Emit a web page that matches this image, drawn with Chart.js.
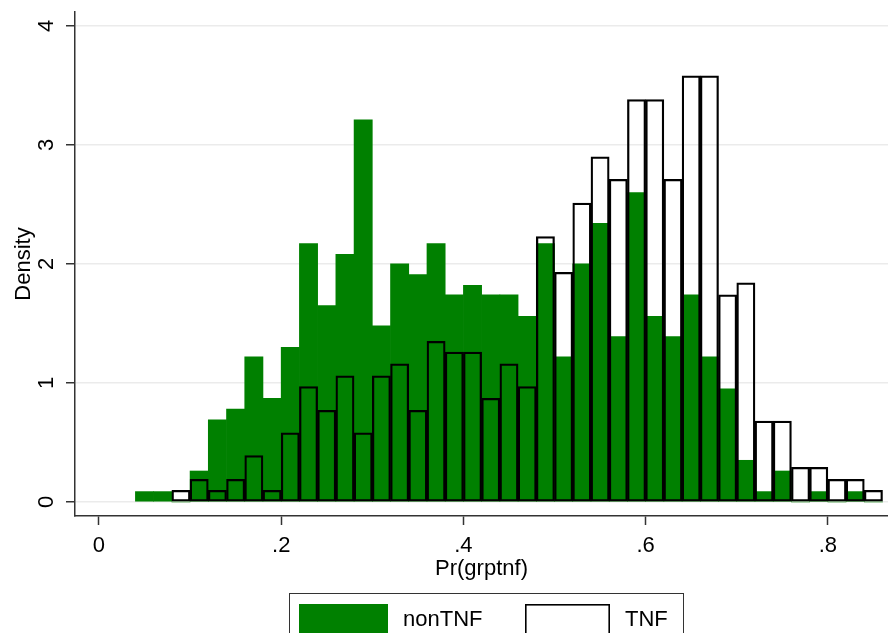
<!DOCTYPE html>
<html>
<head>
<meta charset="utf-8">
<title>Pr(grptnf) histogram</title>
<script src="https://cdn.jsdelivr.net/npm/chart.js@4.4.1/dist/chart.umd.min.js"></script>
<style>
  html, body { margin: 0; padding: 0; background: #fff; }
  #wrap { width: 888px; height: 633px; }
</style>
</head>
<body>
<div id="wrap"><canvas id="histChart"></canvas></div>
<script>
// ── Data (bins of width .02) ──
const binCenters = [0.05, 0.07, 0.09, 0.11, 0.13, 0.15, 0.17, 0.19, 0.21, 0.23, 0.25, 0.27, 0.29, 0.31,
  0.33, 0.35, 0.37, 0.39, 0.41, 0.43, 0.45, 0.47, 0.49, 0.51, 0.53, 0.55, 0.57, 0.59, 0.61, 0.63,
  0.65, 0.67, 0.69, 0.71, 0.73, 0.75, 0.77, 0.79, 0.81, 0.83, 0.85];
const nonTnfDensity = [0.087, 0.087, 0, 0.26, 0.69, 0.78, 1.22, 0.87, 1.30, 2.17, 1.65, 2.08, 3.21, 1.48,
  2.00, 1.91, 2.17, 1.74, 1.82, 1.74, 1.74, 1.56, 2.17, 1.22, 2.00, 2.34, 1.39, 2.60, 1.56, 1.39,
  1.74, 1.22, 0.95, 0.35, 0.087, 0.26, 0, 0.087, 0, 0.087, 0];
const tnfDensity = [null, null, 0.097, 0.19, 0.097, 0.19, 0.39, 0.097, 0.58, 0.97, 0.77, 1.06, 0.58, 1.06,
  1.16, 0.77, 1.35, 1.26, 1.26, 0.87, 1.16, 0.97, 2.23, 1.93, 2.51, 2.90, 2.71, 3.38, 3.38, 2.71,
  3.58, 3.58, 1.74, 1.84, 0.68, 0.68, 0.29, 0.29, 0.19, 0.19, 0.097];
const xTickValues = [0, 0.2, 0.4, 0.6, 0.8];
const xTickLabels = ['0', '.2', '.4', '.6', '.8'];
const yTickValues = [0, 1, 2, 3, 4];
const yTickLabels = ['0', '1', '2', '3', '4'];

const font = { family: '"Liberation Sans", Arial, sans-serif', size: 22 };
const ink = '#000';
const axisColor = '#333';

// Stata-style boxed legend under the plot
const boxLegend = {
  id: 'boxLegend',
  afterDraw(chart) {
    const { ctx } = chart;
    const [green, tnf] = chart.data.datasets;
    ctx.save();
    ctx.strokeStyle = axisColor;
    ctx.lineWidth = 1;
    ctx.strokeRect(289.5, 593.5, 394, 60);

    ctx.fillStyle = green.backgroundColor;
    ctx.fillRect(299, 604, 89, 36);
    ctx.fillStyle = '#fff';
    ctx.fillRect(525, 604, 85, 36);
    ctx.strokeStyle = tnf.borderColor;
    ctx.lineWidth = 1.6;
    ctx.strokeRect(525.8, 604.8, 83.4, 36);

    ctx.fillStyle = ink;
    ctx.font = `${font.size}px ${font.family}`;
    ctx.textBaseline = 'alphabetic';
    ctx.fillText(green.label, 403, 626);
    ctx.fillText(tnf.label, 625, 626);
    ctx.restore();
  }
};

new Chart(document.getElementById('histChart'), {
  type: 'bar',
  data: {
    datasets: [{
      label: 'nonTNF',
      data: binCenters.map((x, i) => ({ x, y: nonTnfDensity[i] })),
      backgroundColor: '#008000',
      borderWidth: 0,
      grouped: false,
      order: 1,
      barPercentage: 1,
      categoryPercentage: 1
    }, {
      label: 'TNF',
      data: binCenters.map((x, i) => ({ x, y: tnfDensity[i] })),
      backgroundColor: 'rgba(0,0,0,0)',
      borderColor: '#000',
      borderWidth: 1.6,
      borderSkipped: false,
      grouped: false,
      order: 0,
      barPercentage: 1,
      categoryPercentage: 1
    }]
  },
  options: {
    responsive: true,
    maintainAspectRatio: false,
    animation: false,
    layout: { padding: { top: 12, left: 0, right: 0, bottom: 43 } },
    plugins: { legend: { display: false }, tooltip: { enabled: false } },
    scales: {
      x: {
        type: 'linear',
        min: -0.0263,
        max: 0.866,
        offset: false,
        afterBuildTicks: s => { s.ticks = xTickValues.map(v => ({ value: v })); },
        afterFit: s => { s.height = 74; s.paddingLeft = 0; s.paddingRight = 0; },
        grid: { offset: false, drawOnChartArea: false, drawTicks: true, tickLength: 9, tickColor: axisColor, tickWidth: 1.5 },
        border: { color: axisColor, width: 1.5 },
        ticks: { color: ink, font, padding: 8, maxRotation: 0, autoSkip: false, callback: (v, i) => xTickLabels[i] },
        title: { display: true, text: 'Pr(grptnf)', color: ink, font, padding: { top: 0, bottom: 8 } }
      },
      y: {
        min: -0.118,
        max: 4.116,
        afterBuildTicks: s => { s.ticks = yTickValues.map(v => ({ value: v })); },
        afterFit: s => { s.width = 75; s.paddingTop = 0; s.paddingBottom = 0; },
        grid: { color: '#ebebeb', lineWidth: 1.5, tickColor: axisColor, tickLength: 9, tickWidth: 1.5 },
        border: { color: axisColor, width: 1.5 },
        ticks: { color: ink, font, padding: 13, minRotation: 90, maxRotation: 90, crossAlign: 'center', autoSkip: false, callback: (v, i) => yTickLabels[i] },
        title: { display: true, text: 'Density', color: ink, font, padding: { top: 11, bottom: 0 } }
      }
    }
  },
  plugins: [boxLegend]
});
</script>
</body>
</html>
